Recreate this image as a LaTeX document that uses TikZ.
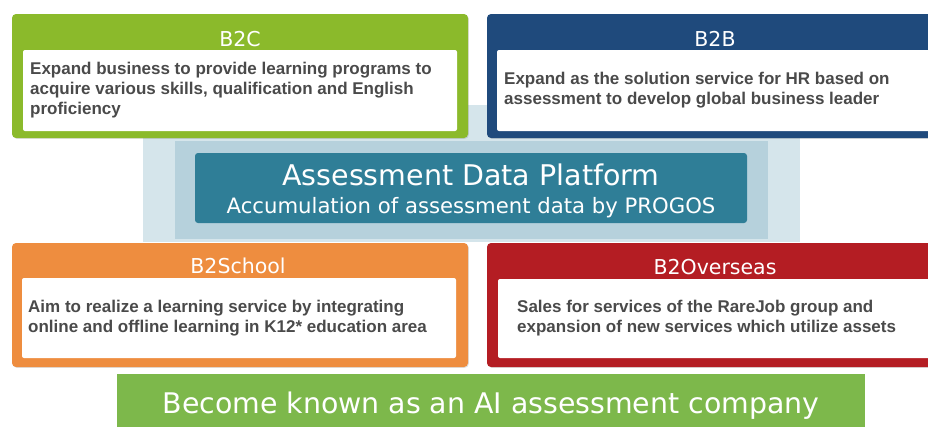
\documentclass[tikz,border=0pt]{standalone}
\usepackage{fontspec}
\setmainfont{Liberation Sans}
\newfontfamily\dvfont{DejaVu Sans}
\usetikzlibrary{shadows}
\definecolor{cgreen}{HTML}{8BBA2B}
\definecolor{cnavy}{HTML}{1F4A7C}
\definecolor{corange}{HTML}{EE8D3F}
\definecolor{cred}{HTML}{B41D23}
\definecolor{cbar}{HTML}{7DB84B}
\definecolor{cteal}{HTML}{2F7E97}
\definecolor{bandlight}{HTML}{D5E5EB}
\definecolor{banddark}{HTML}{B6D1DC}
\definecolor{bodytxt}{HTML}{4A4A4A}
\tikzset{
  outerbox/.style={rounded corners=4pt, inner sep=0pt, outer sep=0pt, anchor=north west,
    minimum width=456pt, minimum height=124pt,
    drop shadow={opacity=0.25, shadow xshift=0.8pt, shadow yshift=-0.8pt}},
  whitebox/.style={fill=white, rounded corners=2pt, inner sep=0pt, outer sep=0pt, anchor=north west,
    minimum width=434pt},
  hdtext/.style={text=white, inner sep=0pt, anchor=base, font=\dvfont\fontsize{20.5}{24}\selectfont},
  bodytext/.style={text=bodytxt, inner sep=0pt, anchor=west, align=left,
    font=\fontsize{17}{20}\selectfont\bfseries},
  band/.style={inner sep=0pt, outer sep=0pt, anchor=north west},
}
\begin{document}
\begin{tikzpicture}[x=1pt,y=-1pt]
\useasboundingbox (0,0) rectangle (928,426);
\clip (0,0) rectangle (928,426);
% background bands
\node[band, fill=bandlight, minimum width=657pt, minimum height=137pt] (bandL) at (143,105) {};
\node[band, fill=banddark, minimum width=593pt, minimum height=98pt] (bandD) at (175,141) {};
% platform
\node[band, fill=cteal, rounded corners=3pt, minimum width=552pt, minimum height=70pt] (plat) at (195,153) {};
\node[text=white, inner sep=0pt, anchor=base, font=\dvfont\fontsize{28.5}{32}\selectfont] (platT) at (471,185) {Assessment Data Platform};
\node[text=white, inner sep=0pt, anchor=base, font=\dvfont\fontsize{21.2}{24}\selectfont] (platS) at (471,213.5) {Accumulation of assessment data by PROGOS};
% B2C
\node[outerbox, fill=cgreen] (b2c) at (12,14) {};
\node[whitebox, minimum height=81pt] (b2cw) at (23,50) {};
\node[hdtext] (b2ch) at (240,46.5) {B2C};
\node[bodytext] (b2ct) at ([xshift=7pt]b2cw.west) {Expand business to provide learning programs to\\acquire various skills, qualification and English\\proficiency};
% B2B
\node[outerbox, fill=cnavy] (b2b) at (487,14) {};
\node[whitebox, minimum height=81pt] (b2bw) at (497,50) {};
\node[hdtext] (b2bh) at (715,46.5) {B2B};
\node[bodytext] (b2bt) at ([xshift=7pt]b2bw.west) {Expand as the solution service for HR based on\\assessment to develop global business leader};
% B2School
\node[outerbox, fill=corange] (b2s) at (12,243) {};
\node[whitebox, minimum height=80pt] (b2sw) at (22,278) {};
\node[hdtext] (b2sh) at (238,273.5) {B2School};
\node[bodytext] (b2st) at ([xshift=6pt]b2sw.west) {Aim to realize a learning service by integrating\\online and offline learning in K12* education area};
% B2Overseas
\node[outerbox, fill=cred] (b2o) at (487,243) {};
\node[whitebox, minimum height=79pt] (b2ow) at (498,279) {};
\node[hdtext] (b2oh) at (715,274.5) {B2Overseas};
\node[bodytext] (b2ot) at ([xshift=19pt]b2ow.west) {Sales for services of the RareJob group and\\expansion of new services which utilize assets};
% bottom bar
\node[band, fill=cbar, minimum width=748pt, minimum height=66pt] (bar) at (117,374) {};
\node[text=white, inner sep=0pt, anchor=base, font=\dvfont\fontsize{28.4}{34}\selectfont] (barT) at (491,413) {Become known as an AI assessment company};
\end{tikzpicture}
\end{document}
